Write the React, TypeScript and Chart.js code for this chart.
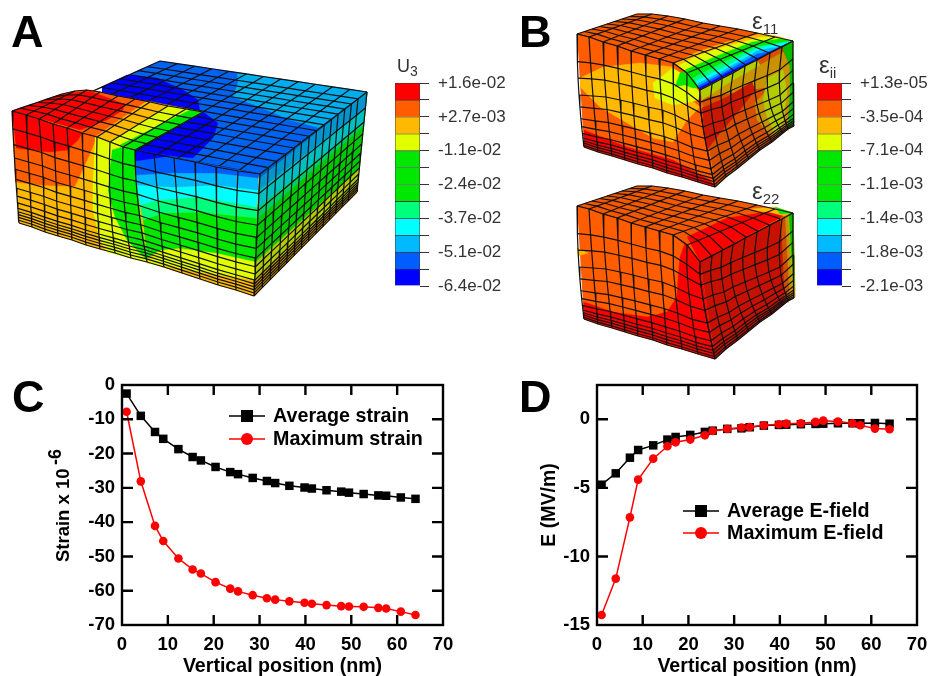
import React, { useEffect, useRef } from "react";
import { Chart, registerables } from "chart.js";

Chart.register(...registerables);

type Pt = [number, number];
type Col = number[];

const FONT = '"Liberation Sans", Arial, sans-serif';

// ---- panel C / D data
const depth = [1, 4.1, 7.2, 9, 12.3, 15.4, 17.2, 20.4, 23.6, 25.3, 28.5, 31.6, 33.4, 36.5, 39.8, 41.4, 44.6, 47.8, 49.5, 52.7, 55.9, 57.6, 60.8, 64];
const avgStrain = [-2.5, -9, -13.7, -15.7, -18.7, -21, -22, -23.9, -25.4, -26, -27.1, -28, -28.6, -29.4, -29.9, -30.2, -30.7, -31.1, -31.4, -31.8, -32.2, -32.3, -32.8, -33.2];
const maxStrain = [-7.8, -28.1, -41.1, -45.5, -50.6, -53.8, -55, -57.5, -59.4, -60.2, -61.3, -62.2, -62.6, -63.1, -63.5, -63.8, -64.2, -64.5, -64.6, -64.7, -65, -65.2, -66.1, -67.1];
const avgField = [-4.77, -3.94, -2.8, -2.24, -1.9, -1.48, -1.29, -1.14, -0.92, -0.83, -0.7, -0.66, -0.58, -0.46, -0.41, -0.39, -0.36, -0.34, -0.32, -0.29, -0.29, -0.29, -0.27, -0.32];
const maxField = [-14.27, -11.62, -7.15, -4.4, -2.87, -1.97, -1.68, -1.48, -1.17, -0.85, -0.7, -0.6, -0.56, -0.44, -0.36, -0.32, -0.29, -0.19, -0.1, -0.17, -0.29, -0.44, -0.68, -0.73];

// ---- colour scale
const contourColors = ["#FF0000", "#FF5D00", "#FFB900", "#E1FF00", "#00E800", "#00E800", "#00E800", "#00FF7A", "#00FFFF", "#00B9FF", "#005DFF", "#0000FF"];
const u3Labels = ["+1.6e-02", "+2.7e-03", "-1.1e-02", "-2.4e-02", "-3.7e-02", "-5.1e-02", "-6.4e-02"];
const eiiLabels = ["+1.3e-05", "-3.5e-04", "-7.1e-04", "-1.1e-03", "-1.4e-03", "-1.8e-03", "-2.1e-03"];

const RED = "#FF0000", ORG = "#FF5D00", AMB = "#FFB900", YEL = "#E1FF00", GRN = "#00E800", TEAL = "#00FF7A", CYAN = "#00FFFF", SKY = "#00B9FF", BLU = "#005DFF", DEEP = "#0000FF";

// ---- panel A mesh (top, middle, bottom node of each column)
const aFrontCols: Col[] = [
  [12, 111, 15, 167, 19, 223], [26, 115, 29, 171, 32, 227], [39, 119, 43, 175, 45, 232], [53, 124, 56, 180, 58, 236],
  [67, 128, 70, 184, 72, 240], [82, 133, 84, 188, 86, 245], [97, 137, 97, 192, 100, 249], [110, 142, 110, 196, 115, 253],
  [123, 147, 124, 200, 131, 258], [135, 150, 138, 203, 147, 262], [154, 154, 159, 210, 164, 267], [174, 158, 178, 215, 182, 273],
  [195, 162, 197, 220, 200, 279], [216, 167, 217, 226, 218, 285], [238, 171, 236, 231, 236, 290], [260, 174, 257, 235, 254, 296],
];
const aRows = [0, 0.16, 0.3, 0.42, 0.52, 0.61, 0.69, 0.76, 0.82, 0.87, 0.9, 0.925, 0.95, 0.975, 1];
const aRightFracs = [0, 0.078, 0.155, 0.239, 0.317, 0.388, 0.46, 0.528, 0.6, 0.668, 0.73, 0.792, 0.854, 0.916, 1];
const aRightFace: Pt[] = [[260, 174], [367, 92], [357, 192], [254, 296]];
const aBlueQuad: Pt[] = [[13, 127], [160, 61], [367, 92], [260, 174]];
const aBlueOutline: Pt[] = [[102, 87], [160, 61], [367, 92], [260, 174], [135, 150], [203, 114], [150, 108], [102, 96]];
const aBlueUFracs = [0, 1 / 12, 2 / 12, 3 / 12, 4 / 12, 5 / 12, 6 / 12, 7 / 12, 8 / 12, 9 / 12, 10 / 12, 11 / 12, 1];
const aRedBack: Pt[] = [[62, 94], [75, 91], [87, 90], [100, 92], [118, 96], [135, 99], [150, 102], [168, 106], [186, 109], [203, 112]];
const sixths = [0, 1 / 6, 2 / 6, 3 / 6, 4 / 6, 5 / 6, 1];

const aBlueBands: [string, Pt[]][] = [
  ["#00AEEE", [[237, 73], [367, 92], [320, 128], [290, 120], [260, 107], [233, 97], [238, 83]]],
  [DEEP, [[102, 87], [127, 75], [157, 78], [183, 90], [198, 100], [200, 112], [203, 114], [150, 108], [102, 96]]],
  [DEEP, [[135, 150], [203, 112], [218, 123], [213, 138], [193, 158], [173, 156]]],
];
const aRedTopBands: [string, Pt[]][] = [
  [AMB, [[95, 137], [147, 101], [203, 112], [135, 150], [110, 142]]],
  [YEL, [[110, 142], [167, 106], [190, 110], [120, 145]]],
  [GRN, [[120, 145], [190, 110], [203, 112], [135, 150]]],
  [RED, [[12, 111], [62, 94], [90, 91], [124, 104], [123, 110], [107, 120], [80, 130]]],
];
const aFrontBands: [string, Pt[]][] = [
  [ORG, [[12, 111], [97, 137], [88, 158], [75, 186], [62, 186], [40, 185], [15, 182]]],
  [RED, [[12, 111], [82, 133], [78, 140], [67, 150], [50, 152], [30, 150], [16, 148]]],
  [YEL, [[95, 137], [110, 142], [123, 147], [135, 220], [147, 262], [107, 252], [100, 240], [93, 210], [93, 180]]],
  [GRN, [[112, 150], [123, 147], [135, 150], [137, 175], [140, 215], [147, 260], [127, 240], [115, 217], [108, 190]]],
  // blue half, painted from the bottom band upwards
  [AMB, [[147, 262], [254, 296], [257, 280], [147, 263]]],
  [YEL, [[147, 262], [160, 250], [180, 248], [217, 253], [257, 262], [257, 280], [200, 272], [147, 263]]],
  [GRN, [[143, 220], [163, 213], [200, 212], [257, 218], [257, 262], [217, 253], [180, 248], [160, 250], [147, 258]]],
  [TEAL, [[140, 205], [157, 200], [200, 197], [257, 207], [257, 218], [200, 212], [163, 213], [143, 220]]],
  [CYAN, [[137, 185], [173, 187], [217, 185], [258, 190], [257, 207], [200, 197], [157, 200], [140, 205]]],
  [SKY, [[135, 175], [173, 173], [217, 173], [258, 178], [258, 190], [217, 185], [173, 187], [137, 185]]],
  [BLU, [[135, 150], [260, 174], [258, 178], [217, 173], [173, 173], [135, 175]]],
  [DEEP, [[135, 150], [170, 156], [135, 161]]],
];
// band colour, fraction on the near edge, fraction on the far edge (each reaches up to the top edge)
const aRightBands: [string, number, number][] = [
  ["#B3CC00", 0.87, 0.93],
  ["#00C800", 0.72, 0.76],
  ["#00CC66", 0.36, 0.34],
  ["#00BFC0", 0.27, 0.3],
  ["#0095CC", 0.13, 0.16],
  ["#005DCC", 0.03, 0],
];

// ---- panel B mesh
const bFrontCols: Col[] = [
  [577, 34, 579, 95, 584, 147], [589, 37, 593, 96, 598, 152], [603, 42, 606, 97, 612, 156], [617, 46, 620, 100, 625, 160],
  [631, 51, 633, 103, 638, 164], [645, 55, 648, 107, 653, 168], [659, 59, 662, 110, 667, 173], [673, 63, 675, 115, 682, 177],
  [687, 73, 689, 122, 698, 182], [700, 90, 703, 127, 715, 187],
];
const bRightCols: Col[] = [
  [700, 90, 703, 127, 715, 187], [712, 84, 713, 123, 726, 177], [722, 78.5, 724, 120, 738, 168], [733, 73, 733, 115, 749, 159],
  [745, 66, 745, 110, 760, 150], [757, 60, 757, 105, 772, 142], [770, 53, 769, 100, 783, 133], [782, 47, 780, 95, 788, 129],
  [793, 41, 793, 83, 794, 126],
];
const bRows = [0, 0.245, 0.39, 0.54, 0.645, 0.75, 0.82, 0.88, 0.92, 0.945, 0.965, 0.985, 1];
const bTopBack: Pt[] = [[637, 14], [652, 14], [668, 16], [685, 19], [703, 23], [720, 26], [738, 29], [757, 33], [775, 37], [793, 41]];
const eighths = [0, 0.125, 0.25, 0.375, 0.5, 0.625, 0.75, 0.875, 1];
const E22_SHIFT = 172;

const e11TopBands: [string, Pt[]][] = [
  [AMB, [[675, 63], [697, 52], [727, 42], [760, 34], [777, 36], [793, 41]]],
  [YEL, [[678, 66], [697, 56], [727, 46], [762, 37], [782, 38], [793, 41]]],
  [GRN, [[685, 70], [717, 56], [752, 42], [780, 39], [793, 41]]],
  [TEAL, [[693, 78], [722, 63], [755, 47], [778, 43], [793, 41]]],
  [CYAN, [[696, 81], [725, 67], [756, 49], [772, 45], [793, 41]]],
  [SKY, [[697, 84], [726, 69], [757, 51], [770, 48], [782, 47]]],
  [BLU, [[698, 86], [727, 71], [757, 54], [768, 52]]],
  [DEEP, [[699, 88], [727, 73], [750, 62]]],
];
const e11FrontBands: [string, Pt[]][] = [
  [AMB, [[580, 78], [603, 67], [640, 63], [673, 67], [675, 87], [700, 107], [687, 120], [673, 142], [653, 138], [627, 123], [600, 107], [580, 87]]],
  [YEL, [[673, 68], [653, 83], [655, 98], [673, 105], [685, 103], [698, 100], [700, 93], [687, 77]]],
  [GRN, [[675, 87], [680, 73], [688, 72], [698, 88], [693, 88], [685, 85]]],
  [RED, [[584, 130], [627, 147], [673, 160], [710, 180], [715, 187], [584, 147]]],
];
const e11RightBands: [string, Pt[]][] = [
  ["#C99200", [[702, 98], [730, 82], [760, 65], [783, 52], [790, 65], [793, 90], [790, 125], [773, 137], [765, 130], [757, 120], [755, 103], [770, 87]]],
  ["#C81800", [[702, 108], [727, 97], [752, 82], [755, 90], [740, 110], [720, 133], [707, 150], [704, 133]]],
  ["#B3CC00", [[767, 78], [783, 70], [787, 93], [783, 123], [775, 133], [767, 117], [763, 100]]],
  ["#B3CC00", [[700, 90], [757, 60], [760, 65], [730, 82], [702, 100]]],
  ["#00BB00", [[782, 47], [793, 41], [794, 123], [788, 128], [790, 93], [790, 67]]],
];
const e22TopBands: [string, Pt[]][] = [
  [AMB, [[750, 209], [775, 207], [793, 213], [785, 217]]],
  [RED, [[687, 237], [727, 218], [767, 212], [783, 216], [700, 262]]],
  [GRN, [[775, 207], [793, 213], [780, 214]]],
];
const e22FrontBands: [string, Pt[]][] = [
  [RED, [[685, 243], [680, 257], [678, 280], [677, 297], [667, 312], [647, 317], [613, 312], [584, 302], [584, 319], [715, 359], [700, 262]]],
  [AMB, [[577, 248], [588, 253], [578, 256]]],
];
const e22RightBands: [string, Pt[]][] = [
  ["#D05000", [[780, 218], [793, 213], [795, 297], [785, 302], [782, 240]]],
  ["#C99200", [[785, 216], [793, 213], [795, 297], [790, 299], [787, 250]]],
  ["#9FBF00", [[788, 215], [793, 213], [795, 290], [792, 285], [790, 250]]],
  ["#00BB00", [[789, 214], [793, 213], [794, 275], [791, 250]]],
];

// ---- helpers
const lerp = (a: Pt, b: Pt, t: number): Pt => [a[0] + (b[0] - a[0]) * t, a[1] + (b[1] - a[1]) * t];
const shiftPts = (p: Pt[], dy: number): Pt[] => p.map(([x, y]) => [x, y + dy] as Pt);
const shiftCols = (c: Col[], dy: number): Col[] => c.map((n) => [n[0], n[1] + dy, n[2], n[3] + dy, n[4], n[5] + dy]);

function node(c: Col, t: number, m: number): Pt {
  const l0 = ((t - m) * (t - 1)) / (m * 1);
  const l1 = (t * (t - 1)) / (m * (m - 1));
  const l2 = (t * (t - m)) / (1 - m);
  return [c[0] * l0 + c[2] * l1 + c[4] * l2, c[1] * l0 + c[3] * l1 + c[5] * l2];
}
const straightCol = (a: Pt, b: Pt): Col => {
  const m = lerp(a, b, 0.5);
  return [a[0], a[1], m[0], m[1], b[0], b[1]];
};

const toXY = (p: Pt[]) => p.map(([x, y]) => ({ x, y }));
const poly = (p: Pt[], color: string) => ({
  data: toXY(p), showLine: true, fill: "shape", backgroundColor: color, borderColor: color, borderWidth: 0.4, pointRadius: 0,
});
const wire = (p: Pt[]) => ({
  data: toXY(p), showLine: true, fill: false, borderColor: "#101010", borderWidth: 1.2, pointRadius: 0,
});
function meshLines(cols: Col[], rows: number[], m = 0.5) {
  const out: any[] = [];
  for (const c of cols) out.push(wire(rows.map((t) => node(c, t, m))));
  for (const t of rows) out.push(wire(cols.map((c) => node(c, t, m))));
  return out;
}
const outline = (cols: Col[], m = 0.5): Pt[] => [...cols.map((c) => node(c, 0, m)), ...[...cols].reverse().map((c) => node(c, 1, m))];
const bands = (list: [string, Pt[]][]) => list.map(([c, p]) => poly(p, c));

function blockB(dy: number, topBands: any[], frontBands: any[], rightBands: any[], shoulder: boolean) {
  const front = shiftCols(bFrontCols, dy);
  const right = shiftCols(bRightCols, dy);
  const back = shiftPts(bTopBack, dy);
  const topCols = front.map((c, i) => straightCol([c[0], c[1]], back[i]));
  const crease: Pt[] = right.map((c) => [c[0], c[1]] as Pt).reverse();
  const top = shoulder
    ? topBands.map((b: any) => ({ ...b, data: [...b.data, ...toXY(crease)] }))
    : topBands;
  return [
    poly(outline(topCols), "#F25800"),
    ...top,
    ...meshLines(topCols, eighths),
    poly(outline(front, 0.54), ORG),
    ...frontBands,
    ...meshLines(front, bRows, 0.54),
    poly(outline(right, 0.54), dy ? "#C81000" : "#D65000"),
    ...rightBands,
    ...meshLines(right, bRows, 0.54),
  ];
}

function buildMeshDatasets() {
  const [rn, rf, rfb, rnb] = [aRightFace[0], aRightFace[1], aRightFace[2], aRightFace[3]];
  const frontTop = aFrontCols.slice(0, 10).map((c) => [c[0], c[1]] as Pt);
  const redTop = frontTop.map((p, i) => straightCol(p, aRedBack[i]));
  const blueCols = aBlueUFracs.map((u) => straightCol(lerp(aBlueQuad[0], aBlueQuad[3], u), lerp(aBlueQuad[1], aBlueQuad[2], u)));
  const rightCols = aRightFracs.map((u) => {
    const top = lerp(rn, rf, u), bot = lerp(rnb, rfb, u);
    return straightCol(top, bot);
  });
  const rightBands = aRightBands.map(([c, tn, tf]) =>
    poly([rn, rf, lerp(rf, rfb, tf), lerp(rn, rnb, tn)], c));
  const sets: any[] = [
    poly(aBlueOutline, "#0062F0"),
    ...bands(aBlueBands),
    ...meshLines(blueCols, aRightFracs),
    poly(outline(redTop), "#FF5D00"),
    ...bands(aRedTopBands),
    ...meshLines(redTop, sixths),
    poly(outline(aFrontCols), AMB),
    ...bands(aFrontBands),
    ...meshLines(aFrontCols, aRows),
    poly(aRightFace, "#C99200"),
    ...rightBands,
    ...meshLines(rightCols, aRows),
    ...blockB(0, bands(e11TopBands), bands(e11FrontBands), bands(e11RightBands), true),
    ...blockB(E22_SHIFT, bands(e22TopBands), bands(e22FrontBands), bands(e22RightBands), false),
  ];
  // Chart.js paints the last dataset first
  return sets.reverse();
}

// ---- charts
function MeshCanvas() {
  const ref = useRef<HTMLCanvasElement>(null);
  useEffect(() => {
    const chart = new Chart(ref.current!, {
      type: "scatter",
      data: { datasets: buildMeshDatasets() },
      options: {
        animation: false, responsive: false,
        layout: { padding: 0 },
        plugins: { legend: { display: false }, tooltip: { enabled: false } },
        elements: { line: { tension: 0 } },
        scales: {
          x: { type: "linear", min: 0, max: 930, display: false },
          y: { type: "linear", min: 0, max: 676, reverse: true, display: false },
        },
      },
    } as any);
    return () => chart.destroy();
  }, []);
  return <canvas ref={ref} width={930} height={676} style={{ position: "absolute", left: 0, top: 0, width: 930, height: 676 }} />;
}

function ColorBar({ left, labels }: { left: number; labels: string[] }) {
  const ref = useRef<HTMLCanvasElement>(null);
  useEffect(() => {
    const chart = new Chart(ref.current!, {
      type: "bar",
      data: {
        labels: ["scale"],
        datasets: [...contourColors].reverse().map((c) => ({
          data: [1], backgroundColor: c, borderColor: "#3a3a3a", borderWidth: 0.8, barPercentage: 1, categoryPercentage: 1,
        })),
      },
      options: {
        animation: false, responsive: false,
        layout: { padding: { left: 5, top: 15, bottom: 15, right: 0 } },
        plugins: { legend: { display: false }, tooltip: { enabled: false } },
        scales: {
          x: { stacked: true, display: false },
          y: {
            stacked: true, position: "right", min: 0, max: 12,
            grid: { drawOnChartArea: false, tickLength: 9, color: "#333", lineWidth: 1 },
            border: { display: false },
            afterFit: (s: any) => { s.width = 110; s.paddingTop = 0; s.paddingBottom = 0; },
            ticks: {
              stepSize: 1, autoSkip: false, padding: 9, color: "#333", maxRotation: 0,
              font: { family: FONT, size: 17 },
              callback: (v: any) => (Number(v) % 2 === 0 ? labels[6 - Number(v) / 2] : ""),
            },
          },
        },
      },
    } as any);
    return () => chart.destroy();
  }, []);
  return <canvas ref={ref} width={140} height={233} style={{ position: "absolute", left, top: 68, width: 140, height: 233 }} />;
}

const framePlugin = {
  id: "frame",
  afterDatasetsDraw(chart: any, _a: any, o: any) {
    const { ctx, chartArea: a, scales } = chart;
    ctx.save();
    ctx.strokeStyle = "#000";
    ctx.lineWidth = 2.4;
    ctx.strokeRect(a.left, a.top, a.right - a.left, a.bottom - a.top);
    ctx.beginPath();
    for (const t of scales.x.ticks) {
      const p = scales.x.getPixelForValue(t.value);
      if (p <= a.left + 1 || p >= a.right - 1) continue;
      ctx.moveTo(p, a.top); ctx.lineTo(p, a.top + 10);
      ctx.moveTo(p, a.bottom); ctx.lineTo(p, a.bottom - 10);
    }
    for (const t of scales.y.ticks) {
      const p = scales.y.getPixelForValue(t.value);
      if (p <= a.top + 1 || p >= a.bottom - 1) continue;
      ctx.moveTo(a.left, p); ctx.lineTo(a.left + 11, p);
      ctx.moveTo(a.right, p); ctx.lineTo(a.right - 11, p);
    }
    ctx.stroke();
    // key, drawn from the datasets' own labels and colours
    chart.data.datasets.forEach((d: any, i: number) => {
      const y = o.keyY[i];
      ctx.strokeStyle = d.borderColor; ctx.fillStyle = d.borderColor; ctx.lineWidth = 1.5;
      ctx.beginPath(); ctx.moveTo(o.keyX, y); ctx.lineTo(o.keyX + 36, y); ctx.stroke();
      const c = o.keyX + 18;
      if (d.pointStyle === "rect") ctx.fillRect(c - 6, y - 6, 12, 12);
      else { ctx.beginPath(); ctx.arc(c, y, 6, 0, Math.PI * 2); ctx.fill(); }
      ctx.fillStyle = "#000";
      ctx.font = `bold 19.7px ${FONT}`;
      ctx.textBaseline = "middle";
      ctx.textAlign = "left";
      ctx.fillText(d.label, o.keyX + 44, y + 0.5);
    });
    ctx.restore();
  },
};

type LineProps = {
  left: number; width: number; axisWidth: number; rightPad: number; titlePad: number; yTitle: string; yTitleSize: number;
  yMin: number; yMax: number; yStep: number; a: number[]; b: number[]; aLabel: string; bLabel: string; keyX: number; keyY: number[];
};
function LineChart(p: LineProps) {
  const ref = useRef<HTMLCanvasElement>(null);
  useEffect(() => {
    const chart = new Chart(ref.current!, {
      type: "line",
      data: {
        datasets: [
          { label: p.aLabel, data: depth.map((x, i) => ({ x, y: p.a[i] })), borderColor: "#000", backgroundColor: "#000", borderWidth: 1.5, pointStyle: "rect", pointRadius: 6, pointBorderWidth: 0, order: 2 },
          { label: p.bLabel, data: depth.map((x, i) => ({ x, y: p.b[i] })), borderColor: "#FF0000", backgroundColor: "#FF0000", borderWidth: 1.5, pointStyle: "circle", pointRadius: 4.3, pointBorderWidth: 0, order: 1 },
        ],
      },
      options: {
        animation: false, responsive: false,
        layout: { padding: { left: 0, top: 13, right: p.rightPad, bottom: 0 } },
        plugins: { legend: { display: false }, tooltip: { enabled: false }, frame: { keyX: p.keyX, keyY: p.keyY } },
        scales: {
          x: {
            type: "linear", min: 0, max: 70,
            grid: { display: false, drawTicks: false }, border: { display: false },
            afterFit: (s: any) => { s.height = 51; s.paddingLeft = 0; s.paddingRight = 0; },
            ticks: { stepSize: 10, padding: 9, color: "#000", maxRotation: 0, font: { family: FONT, size: 18.5, weight: "bold" } },
            title: { display: true, text: "Vertical position (nm)", color: "#000", padding: { top: 0, bottom: 0 }, font: { family: FONT, size: 19.6, weight: "bold", lineHeight: 1 } },
          },
          y: {
            type: "linear", min: p.yMin, max: p.yMax,
            grid: { display: false, drawTicks: false }, border: { display: false },
            afterFit: (s: any) => { s.width = p.axisWidth; s.paddingTop = 0; s.paddingBottom = 0; },
            afterBuildTicks: (s: any) => { s.ticks = s.ticks.filter((t: any) => Number.isInteger(t.value) && t.value % p.yStep === 0); },
            ticks: { stepSize: p.yStep, padding: 7, color: "#000", font: { family: FONT, size: 18.5, weight: "bold" } },
            title: { display: true, text: p.yTitle, color: "#000", padding: { top: p.titlePad, bottom: 0 }, font: { family: FONT, size: p.yTitleSize, weight: "bold", lineHeight: 1 } },
          },
        },
      },
      plugins: [framePlugin],
    } as any);
    return () => chart.destroy();
  }, []);
  return <canvas ref={ref} width={p.width} height={304} style={{ position: "absolute", left: p.left, top: 372, width: p.width, height: 304 }} />;
}

const abs = (left: number, top: number, size: number, extra: React.CSSProperties = {}): React.CSSProperties => ({
  position: "absolute", left, top, fontSize: size, lineHeight: 1, fontFamily: FONT, whiteSpace: "pre", ...extra,
});
const dark = { color: "#333" };

export default function App() {
  return (
    <div style={{ position: "absolute", left: 0, top: 0, width: 930, height: 676, background: "#fff", overflow: "hidden", filter: "blur(0.45px)" }}>
      <MeshCanvas />
      <ColorBar left={390} labels={u3Labels} />
      <ColorBar left={812} labels={eiiLabels} />
      <LineChart left={0} width={465} axisWidth={122} rightPad={22} titlePad={55} yTitle={"Strain x 10\u00A0\u00A0\u00A0\u00A0"} yTitleSize={18.5}
        yMin={-70} yMax={0} yStep={10} a={avgStrain} b={maxStrain} aLabel="Average strain" bLabel="Maximum strain" keyX={229} keyY={[44, 67]} />
      <LineChart left={470} width={460} axisWidth={127} rightPad={13} titlePad={69.5} yTitle="E (MV/m)" yTitleSize={19.5}
        yMin={-15} yMax={2.5} yStep={5} a={avgField} b={maxField} aLabel="Average E-field" bLabel="Maximum E-field" keyX={213} keyY={[139, 161]} />
      <div style={abs(11, 9, 45, { fontWeight: "bold" })}>A</div>
      <div style={abs(519, 9, 45, { fontWeight: "bold" })}>B</div>
      <div style={abs(12, 374, 45, { fontWeight: "bold" })}>C</div>
      <div style={abs(519, 374, 45, { fontWeight: "bold" })}>D</div>
      <div style={abs(397, 57, 18, dark)}>U<span style={{ fontSize: 14, position: "relative", top: 4 }}>3</span></div>
      <div style={abs(752, 9, 24, dark)}>ε<span style={{ fontSize: 15, position: "relative", top: 5 }}>11</span></div>
      <div style={abs(752, 179, 24, dark)}>ε<span style={{ fontSize: 15, position: "relative", top: 5 }}>22</span></div>
      <div style={abs(819, 53, 24, dark)}>ε<span style={{ fontSize: 15, position: "relative", top: 5 }}>ii</span></div>
      <div style={abs(46, 465, 18, { fontWeight: "bold", transform: "rotate(-90deg)", transformOrigin: "left top" })}>-6</div>
    </div>
  );
}
